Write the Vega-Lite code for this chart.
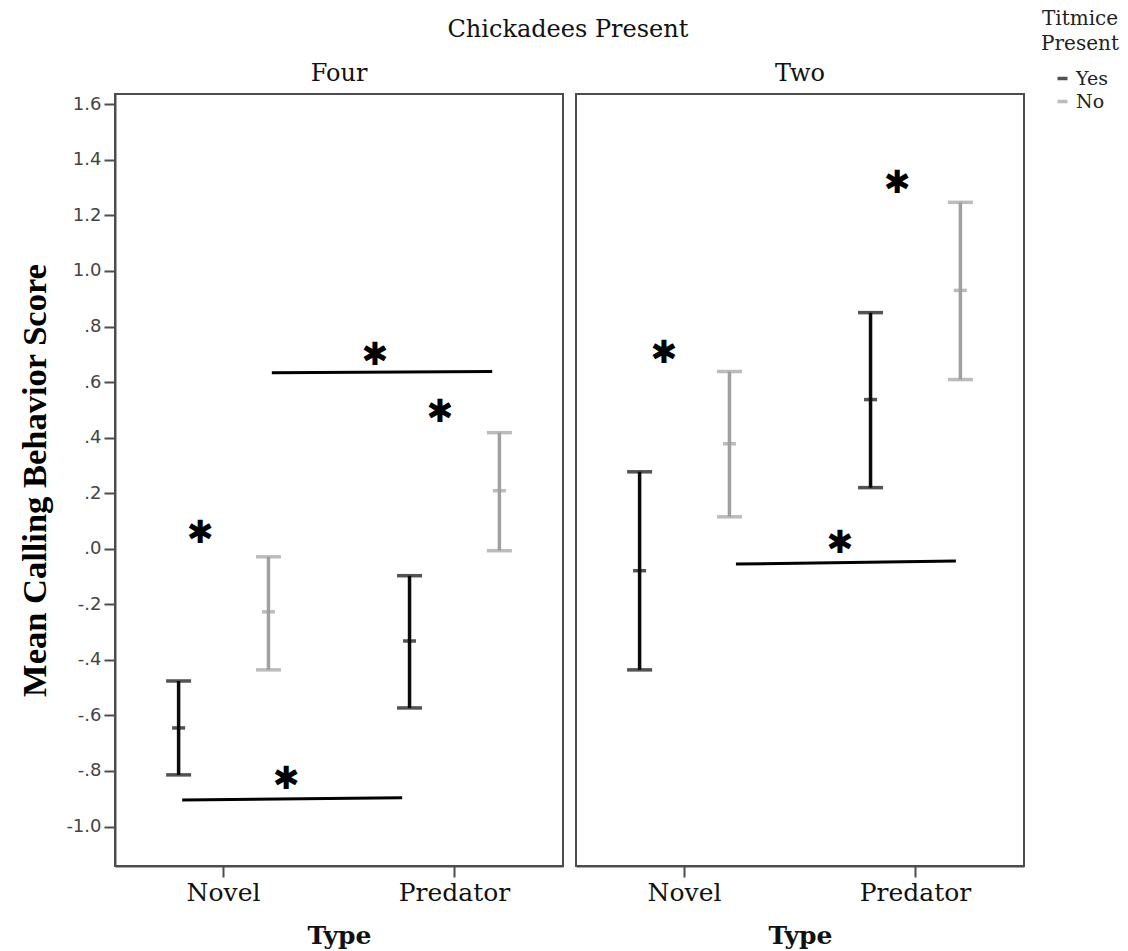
{
  "$schema": "https://vega.github.io/schema/vega-lite/v6.json",
  "padding": {"left": 16, "top": 9, "right": 3, "bottom": 0},
  "background": "white",
  "config": {
    "view": {"stroke": "#4d4d4d", "strokeWidth": 2},
    "font": "DejaVu Serif",
    "axis": {"grid": false, "domainColor": "#4d4d4d", "domainWidth": 2, "tickColor": "#4d4d4d", "tickWidth": 2},
    "title": {"font": "DejaVu Serif", "fontSize": 24, "fontWeight": "normal", "color": "#111"}
  },
  "title": {"text": "Chickadees Present", "anchor": "middle", "offset": -33},
  "data": {
    "values": [
      {"kind": "bar", "chick": "Four", "type": "Novel", "tit": "Yes", "mean": -0.645, "lower": -0.814, "upper": -0.476},
      {"kind": "bar", "chick": "Four", "type": "Novel", "tit": "No", "mean": -0.227, "lower": -0.436, "upper": -0.029},
      {"kind": "bar", "chick": "Four", "type": "Predator", "tit": "Yes", "mean": -0.332, "lower": -0.573, "upper": -0.097},
      {"kind": "bar", "chick": "Four", "type": "Predator", "tit": "No", "mean": 0.209, "lower": -0.007, "upper": 0.418},
      {"kind": "bar", "chick": "Two", "type": "Novel", "tit": "Yes", "mean": -0.079, "lower": -0.436, "upper": 0.277},
      {"kind": "bar", "chick": "Two", "type": "Novel", "tit": "No", "mean": 0.378, "lower": 0.115, "upper": 0.638},
      {"kind": "bar", "chick": "Two", "type": "Predator", "tit": "Yes", "mean": 0.537, "lower": 0.220, "upper": 0.850},
      {"kind": "bar", "chick": "Two", "type": "Predator", "tit": "No", "mean": 0.930, "lower": 0.609, "upper": 1.247},
      {"kind": "line", "chick": "Four", "ax": 0.150, "ax2": 0.641, "ay": -0.904, "ay2": -0.896},
      {"kind": "line", "chick": "Four", "ax": 0.350, "ax2": 0.842, "ay": 0.634, "ay2": 0.638},
      {"kind": "line", "chick": "Two", "ax": 0.357, "ax2": 0.848, "ay": -0.055, "ay2": -0.044},
      {"kind": "star", "chick": "Four", "ax": 0.190, "ay": 0.057},
      {"kind": "star", "chick": "Four", "ax": 0.382, "ay": -0.828},
      {"kind": "star", "chick": "Four", "ax": 0.580, "ay": 0.698},
      {"kind": "star", "chick": "Four", "ax": 0.725, "ay": 0.492},
      {"kind": "star", "chick": "Two", "ax": 0.196, "ay": 0.705},
      {"kind": "star", "chick": "Two", "ax": 0.717, "ay": 1.317},
      {"kind": "star", "chick": "Two", "ax": 0.589, "ay": 0.021}
    ]
  },
  "spacing": 11,
  "hconcat": [
    {
      "width": 448,
      "height": 772,
      "title": {"text": "Four", "offset": 8},
      "transform": [{"filter": "datum.chick === 'Four'"}],
      "layer": [
        {
          "transform": [{"filter": "datum.kind === 'bar'"}],
          "encoding": {
            "x": {
              "field": "type", "type": "nominal", "title": "Type",
              "scale": {"paddingInner": 0.2, "paddingOuter": 0.07},
              "axis": {"labelAngle": 0, "labelFont": "DejaVu Serif", "labelFontSize": 25, "labelColor": "#111", "tickSize": 11, "labelPadding": 3, "titleFont": "DejaVu Serif", "titleFontSize": 25, "titleFontWeight": "bold", "titleColor": "#111", "titlePadding": 18}
            },
            "xOffset": {"field": "tit", "type": "nominal", "scale": {"domain": ["Yes", "No"], "paddingInner": 0, "paddingOuter": 0.028}},
            "color": {
              "field": "tit", "type": "nominal",
              "scale": {"domain": ["Yes", "No"], "range": ["#0a0a0a", "#a0a0a0"]},
              "legend": {
                "title": ["Titmice", "Present"], "orient": "none", "legendX": 926, "legendY": -85,
                "titleFont": "DejaVu Serif", "titleFontSize": 20, "titleFontWeight": "normal", "titleColor": "#222", "titleAlign": "center", "titleAnchor": "middle", "titleLineHeight": 25, "titlePadding": 15,
                "labelFont": "DejaVu Serif", "labelFontSize": 19, "labelColor": "#222", "rowPadding": 3,
                "symbolType": "stroke", "symbolSize": 100, "symbolStrokeWidth": 3.5
              }
            },
            "y": {
              "field": "lower", "type": "quantitative", "title": "Mean Calling Behavior Score",
              "scale": {"domain": [-1.142, 1.637], "nice": false, "zero": false},
              "axis": {
                "values": [-1, -0.8, -0.6, -0.4, -0.2, 0, 0.2, 0.4, 0.6, 0.8, 1, 1.2, 1.4, 1.6],
                "labelExpr": "replace(replace(format(datum.value, '.1f'), '−', '-'), '0.', '.')",
                "labelFont": "DejaVu Sans", "labelFontSize": 18, "labelColor": "#444", "tickSize": 11, "labelPadding": 3,
                "titleFont": "Liberation Serif", "titleFontSize": 34.5, "titleFontWeight": "bold", "titleColor": "#000", "titlePadding": 13
              }
            }
          },
          "layer": [
            {"mark": {"type": "rule", "strokeWidth": 3.5}, "encoding": {"y2": {"field": "upper"}}},
            {"mark": {"type": "tick", "size": 25, "thickness": 3.5}},
            {"mark": {"type": "tick", "size": 25, "thickness": 3.5}, "encoding": {"y": {"field": "upper", "type": "quantitative", "title": "Mean Calling Behavior Score"}}},
            {"mark": {"type": "tick", "size": 13, "thickness": 3.5}, "encoding": {"y": {"field": "mean", "type": "quantitative", "title": "Mean Calling Behavior Score"}}}
          ]
        },
        {
          "transform": [{"filter": "datum.kind === 'line'"}],
          "mark": {"type": "rule", "strokeWidth": 3, "color": "#000"},
          "encoding": {
            "x": {"field": "ax", "type": "quantitative", "scale": {"domain": [0, 1], "nice": false, "zero": false}, "axis": null},
            "x2": {"field": "ax2"},
            "y": {"field": "ay", "type": "quantitative", "title": "Mean Calling Behavior Score"},
            "y2": {"field": "ay2"}
          }
        },
        {
          "transform": [{"filter": "datum.kind === 'star'"}],
          "mark": {"type": "text", "text": "✱", "font": "DejaVu Sans", "fontSize": 32, "baseline": "middle", "align": "center", "color": "#000"},
          "encoding": {
            "x": {"field": "ax", "type": "quantitative", "scale": {"domain": [0, 1], "nice": false, "zero": false}, "axis": null},
            "y": {"field": "ay", "type": "quantitative", "title": "Mean Calling Behavior Score"}
          }
        }
      ],
      "resolve": {"scale": {"x": "independent"}, "axis": {"x": "independent"}}
    },
    {
      "width": 448,
      "height": 772,
      "title": {"text": "Two", "offset": 8},
      "transform": [{"filter": "datum.chick === 'Two'"}],
      "layer": [
        {
          "transform": [{"filter": "datum.kind === 'bar'"}],
          "encoding": {
            "x": {
              "field": "type", "type": "nominal", "title": "Type",
              "scale": {"paddingInner": 0.2, "paddingOuter": 0.07},
              "axis": {"labelAngle": 0, "labelFont": "DejaVu Serif", "labelFontSize": 25, "labelColor": "#111", "tickSize": 11, "labelPadding": 3, "titleFont": "DejaVu Serif", "titleFontSize": 25, "titleFontWeight": "bold", "titleColor": "#111", "titlePadding": 18}
            },
            "xOffset": {"field": "tit", "type": "nominal", "scale": {"domain": ["Yes", "No"], "paddingInner": 0, "paddingOuter": 0.028}},
            "color": {"field": "tit", "type": "nominal"},
            "y": {
              "field": "lower", "type": "quantitative",
              "scale": {"domain": [-1.142, 1.637], "nice": false, "zero": false},
              "axis": null
            }
          },
          "layer": [
            {"mark": {"type": "rule", "strokeWidth": 3.5}, "encoding": {"y2": {"field": "upper"}}},
            {"mark": {"type": "tick", "size": 25, "thickness": 3.5}},
            {"mark": {"type": "tick", "size": 25, "thickness": 3.5}, "encoding": {"y": {"field": "upper", "type": "quantitative", "axis": null}}},
            {"mark": {"type": "tick", "size": 13, "thickness": 3.5}, "encoding": {"y": {"field": "mean", "type": "quantitative", "axis": null}}}
          ]
        },
        {
          "transform": [{"filter": "datum.kind === 'line'"}],
          "mark": {"type": "rule", "strokeWidth": 3, "color": "#000"},
          "encoding": {
            "x": {"field": "ax", "type": "quantitative", "scale": {"domain": [0, 1], "nice": false, "zero": false}, "axis": null},
            "x2": {"field": "ax2"},
            "y": {"field": "ay", "type": "quantitative", "axis": null},
            "y2": {"field": "ay2"}
          }
        },
        {
          "transform": [{"filter": "datum.kind === 'star'"}],
          "mark": {"type": "text", "text": "✱", "font": "DejaVu Sans", "fontSize": 32, "baseline": "middle", "align": "center", "color": "#000"},
          "encoding": {
            "x": {"field": "ax", "type": "quantitative", "scale": {"domain": [0, 1], "nice": false, "zero": false}, "axis": null},
            "y": {"field": "ay", "type": "quantitative", "axis": null}
          }
        }
      ],
      "resolve": {"scale": {"x": "independent"}, "axis": {"x": "independent"}}
    }
  ]
}
